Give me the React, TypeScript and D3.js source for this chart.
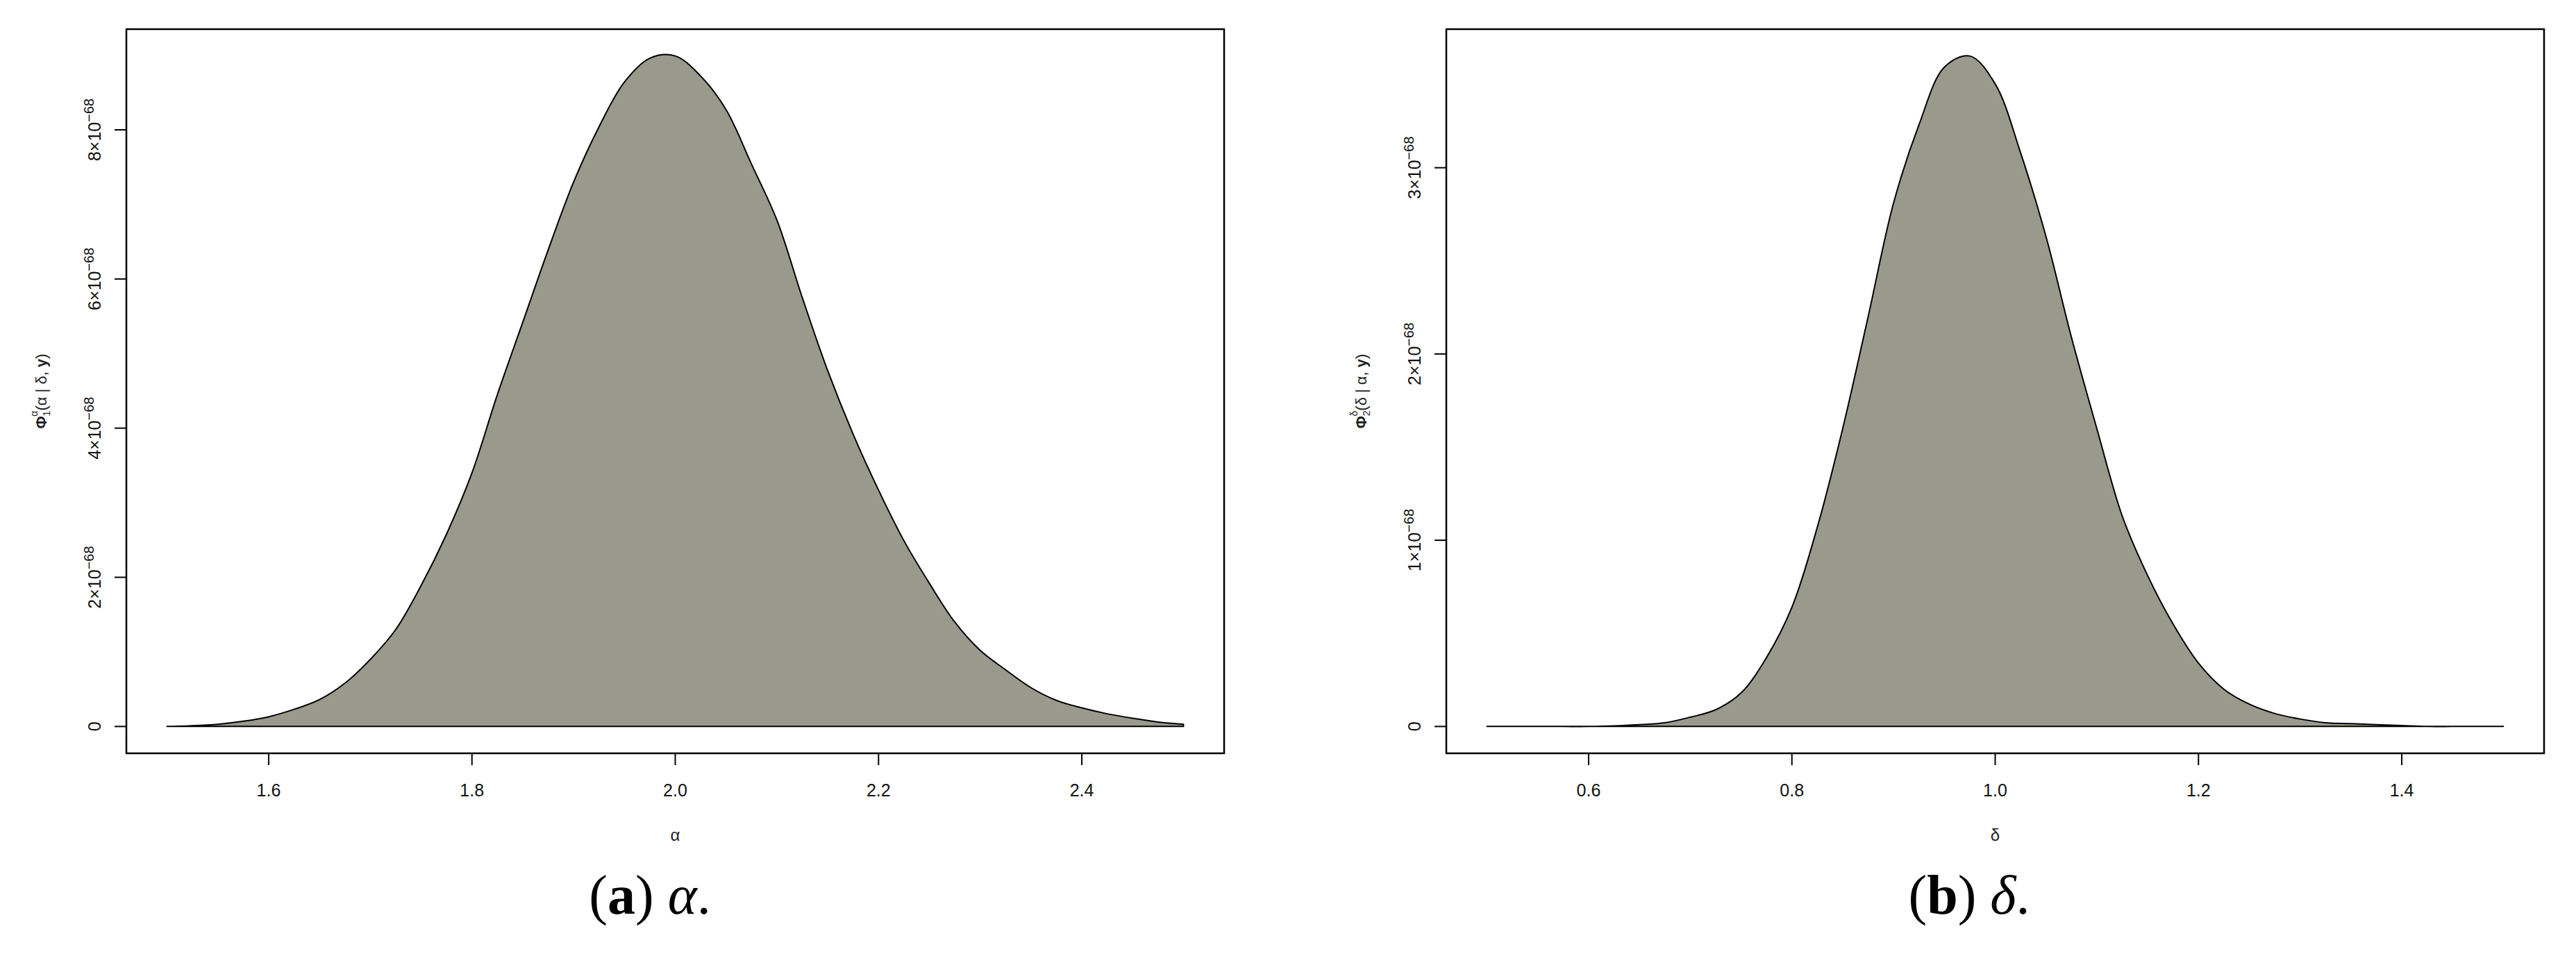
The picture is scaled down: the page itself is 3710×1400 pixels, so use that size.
import React from "react";
import * as d3 from "d3";

// ---- data (density values in units of 1e-68) ----
const alphaGrid = [
  1.5, 1.525, 1.55, 1.575, 1.6, 1.625, 1.65, 1.675, 1.7, 1.725, 1.75, 1.775, 1.8, 1.825, 1.85,
  1.875, 1.9, 1.925, 1.95, 1.975, 2.0, 2.025, 2.05, 2.075, 2.1, 2.125, 2.15, 2.175, 2.2, 2.225,
  2.25, 2.275, 2.3, 2.325, 2.35, 2.375, 2.4, 2.425, 2.45, 2.475, 2.5,
];
const alphaDensity = [
  0.0, 0.01, 0.03, 0.07, 0.13, 0.23, 0.36, 0.58, 0.9, 1.3, 1.89, 2.58, 3.4, 4.45, 5.42,
  6.39, 7.3, 8.04, 8.64, 8.96, 8.99, 8.72, 8.27, 7.54, 6.79, 5.75, 4.77, 3.92, 3.17, 2.49,
  1.92, 1.4, 1.02, 0.76, 0.52, 0.35, 0.25, 0.17, 0.11, 0.06, 0.03,
];
const deltaGrid = [
  0.5, 0.525, 0.55, 0.575, 0.6, 0.625, 0.65, 0.675, 0.7, 0.725, 0.75, 0.775, 0.8, 0.825, 0.85,
  0.875, 0.9, 0.925, 0.95, 0.975, 1.0, 1.025, 1.05, 1.075, 1.1, 1.125, 1.15, 1.175, 1.2, 1.225,
  1.25, 1.275, 1.3, 1.325, 1.35, 1.375, 1.4, 1.425, 1.45, 1.475, 1.5,
];
const deltaDensity = [
  0, 0, 0, 0, 0, 0.003, 0.01, 0.02, 0.05, 0.09, 0.18, 0.37, 0.64, 1.07, 1.6,
  2.2, 2.81, 3.23, 3.54, 3.6, 3.45, 3.08, 2.63, 2.09, 1.6, 1.13, 0.81, 0.55, 0.34, 0.2,
  0.12, 0.07, 0.04, 0.02, 0.015, 0.01, 0.005, 0, 0, 0, 0,
];
const alphaXTicks = [1.6, 1.8, 2.0, 2.2, 2.4];
const alphaYTicks = [0, 2, 4, 6, 8];
const deltaXTicks = [0.6, 0.8, 1.0, 1.2, 1.4];
const deltaYTicks = [0, 1, 2, 3];

const FILL = "#999a8b";
const SANS = "Liberation Sans, Arial, sans-serif";
const SERIF = "Liberation Serif, Times New Roman, serif";

type PanelProps = {
  x0: number;
  x1: number;
  xs: number[];
  ys: number[];
  xTicks: number[];
  yTicks: number[];
  xLabel: string;
  sub: string;
  sup: string;
  argMain: string;
  caption: string;
  captionSym: string;
  captionX: number;
};

function Panel(p: PanelProps) {
  const top = 42;
  const bottom = 1085;
  const [xmin, xmax] = d3.extent(p.xs) as [number, number];
  const xr = xmax - xmin;
  const ymax = d3.max(p.ys) as number;
  const x = d3.scaleLinear().domain([xmin - 0.04 * xr, xmax + 0.04 * xr]).range([p.x0, p.x1]);
  const y = d3.scaleLinear().domain([-0.04 * ymax, ymax * 1.04]).range([bottom, top]);
  const pts: [number, number][] = p.xs.map((v, i) => [v, p.ys[i]]);
  const area = d3
    .area<[number, number]>()
    .x((d) => x(d[0]))
    .y0(y(0))
    .y1((d) => Math.min(y(0), y(d[1])))
    .curve(d3.curveCatmullRom.alpha(0.5));
  const fmt = d3.format(".1f");
  const cx = (p.x0 + p.x1) / 2;
  const cy = (top + bottom) / 2;
  return (
    <g>
      <path d={area(pts) || ""} fill={FILL} stroke="#000" strokeWidth={2} strokeLinejoin="round" />
      <rect x={p.x0} y={top} width={p.x1 - p.x0} height={bottom - top} fill="none" stroke="#000" strokeWidth={2.5} />
      {p.xTicks.map((t) => (
        <g key={"x" + t}>
          <line x1={x(t)} x2={x(t)} y1={bottom} y2={bottom + 17} stroke="#000" strokeWidth={2} />
          <text x={x(t)} y={1147} fontSize={25} fontFamily={SANS} textAnchor="middle" fill="#111">
            {fmt(t)}
          </text>
        </g>
      ))}
      {p.yTicks.map((t) => (
        <g key={"y" + t}>
          <line x1={p.x0 - 17} x2={p.x0} y1={y(t)} y2={y(t)} stroke="#000" strokeWidth={2} />
          <text
            transform={`translate(${p.x0 - 37},${y(t)}) rotate(-90)`}
            fontSize={25}
            fontFamily={SANS}
            textAnchor="middle"
            fill="#111"
          >
            {t === 0 ? (
              "0"
            ) : (
              <>
                <tspan>{t}×10</tspan>
                <tspan fontSize={20} dy={-10}>−68</tspan>
              </>
            )}
          </text>
        </g>
      ))}
      <text x={cx} y={1211} fontSize={24} fontFamily={SANS} textAnchor="middle" fill="#222">
        {p.xLabel}
      </text>
      <text
        transform={`translate(${p.x0 - 115},${cy}) rotate(-90)`}
        fontSize={22}
        fontFamily={SANS}
        textAnchor="middle"
        fill="#222"
      >
        <tspan fontWeight="bold">Φ</tspan>
        <tspan fontSize={14} dy={5}>{p.sub}</tspan>
        <tspan fontSize={14} dx={-8} dy={-18}>{p.sup}</tspan>
        <tspan dy={13}>{p.argMain}</tspan>
        <tspan fontWeight="bold">y</tspan>
        <tspan>)</tspan>
      </text>
      <text x={p.captionX} y={1316} fontSize={80} fontFamily={SERIF} textAnchor="middle" fill="#000">
        <tspan>(</tspan>
        <tspan fontWeight="bold">{p.caption}</tspan>
        <tspan>) </tspan>
        <tspan fontStyle="italic">{p.captionSym}</tspan>
        <tspan>.</tspan>
      </text>
    </g>
  );
}

export default function App() {
  return (
    <svg
      width={3710}
      height={1400}
      viewBox="0 0 3710 1400"
      style={{ position: "absolute", left: 0, top: 0, background: "#fff", display: "block" }}
    >
      <rect x={0} y={0} width={3710} height={1400} fill="#fff" />
      <Panel
        x0={182}
        x1={1763}
        xs={alphaGrid}
        ys={alphaDensity}
        xTicks={alphaXTicks}
        yTicks={alphaYTicks}
        xLabel="α"
        sub="1"
        sup="α"
        argMain="(α | δ, "
        caption="a"
        captionSym="α"
        captionX={936}
      />
      <Panel
        x0={2083}
        x1={3664}
        xs={deltaGrid}
        ys={deltaDensity}
        xTicks={deltaXTicks}
        yTicks={deltaYTicks}
        xLabel="δ"
        sub="2"
        sup="δ"
        argMain="(δ | α, "
        caption="b"
        captionSym="δ"
        captionX={2836}
      />
    </svg>
  );
}
